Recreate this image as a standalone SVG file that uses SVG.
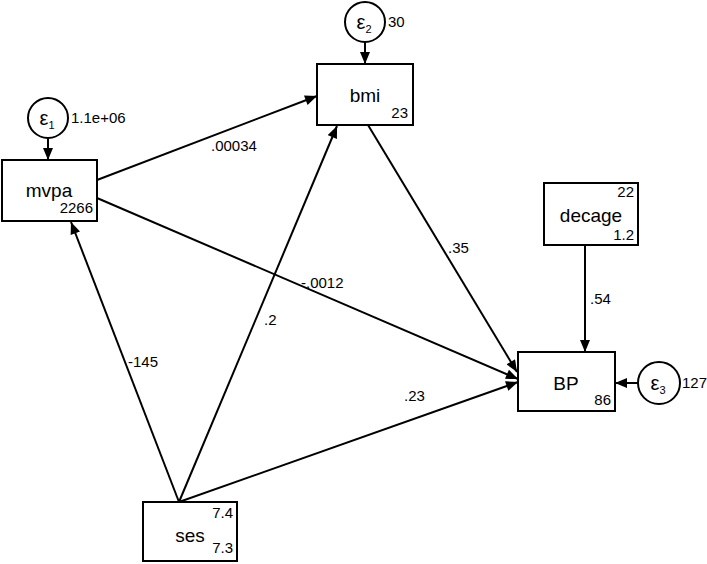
<svg xmlns="http://www.w3.org/2000/svg" width="707" height="564" viewBox="0 0 707 564">
<defs>
<marker id="ah" viewBox="0 0 12 10" refX="12" refY="5" markerWidth="13" markerHeight="10" markerUnits="userSpaceOnUse" orient="auto">
<path d="M0,0 L12,5 L0,10 z" fill="#000"/>
</marker>
<style>
.box{fill:#fff;stroke:#000;stroke-width:2}
.err{fill:#fff;stroke:#000;stroke-width:2}
.lbl{font-family:"Liberation Sans",Arial,sans-serif;font-size:19px;fill:#000}
.num{font-family:"Liberation Sans",Arial,sans-serif;font-size:15px;fill:#000}
.eps{font-family:"Liberation Sans",Arial,sans-serif;font-size:20px;fill:#000}
.sub{font-size:11px}
.con line{stroke:#000;stroke-width:2;marker-end:url(#ah)}
</style>
</defs>
<rect width="707" height="564" fill="#fff"/>
<g id="connectors" class="con">
<line x1="48" y1="138" x2="48" y2="160"/>
<line x1="365" y1="42" x2="365" y2="64"/>
<line x1="638" y1="383" x2="615" y2="383"/>
<line x1="97" y1="180" x2="317" y2="96"/>
<line x1="97" y1="198" x2="518" y2="379"/>
<line x1="368" y1="125" x2="517" y2="372"/>
<line x1="179" y1="502" x2="71" y2="222"/>
<line x1="179" y1="502" x2="337" y2="126"/>
<line x1="179" y1="502" x2="518" y2="382"/>
<line x1="585" y1="245" x2="585" y2="352"/>
</g>
<g id="labels">
<text class="num" x="211" y="151">.00034</text>
<text class="num" x="301" y="288">-.0012</text>
<text class="num" x="448" y="253">.35</text>
<text class="num" x="128" y="367">-145</text>
<text class="num" x="264" y="325">.2</text>
<text class="num" x="404" y="401">.23</text>
<text class="num" x="590" y="304">.54</text>
</g>
<g id="e1">
<circle class="err" cx="48" cy="118" r="20"/>
<text class="eps" x="47" y="125" text-anchor="middle">ε<tspan class="sub" dy="4">1</tspan></text>
<text class="num" x="71" y="123">1.1e+06</text>
</g>
<g id="e2">
<circle class="err" cx="365" cy="22" r="20"/>
<text class="eps" x="364" y="29" text-anchor="middle">ε<tspan class="sub" dy="4">2</tspan></text>
<text class="num" x="388" y="27">30</text>
</g>
<g id="e3">
<circle class="err" cx="659" cy="383" r="21"/>
<text class="eps" x="658" y="390" text-anchor="middle">ε<tspan class="sub" dy="4">3</tspan></text>
<text class="num" x="682" y="388">127</text>
</g>
<g id="mvpa">
<rect class="box" x="2" y="160" width="95" height="61"/>
<text class="lbl" x="49" y="197" text-anchor="middle">mvpa</text>
<text class="num" x="93" y="213" text-anchor="end">2266</text>
</g>
<g id="bmi">
<rect class="box" x="317" y="64" width="96" height="61"/>
<text class="lbl" x="365" y="102" text-anchor="middle">bmi</text>
<text class="num" x="408" y="118" text-anchor="end">23</text>
</g>
<g id="decage">
<rect class="box" x="544" y="183" width="94" height="62"/>
<text class="lbl" x="591" y="222" text-anchor="middle">decage</text>
<text class="num" x="634" y="197" text-anchor="end">22</text>
<text class="num" x="634" y="240" text-anchor="end">1.2</text>
</g>
<g id="BP">
<rect class="box" x="518" y="352" width="97" height="59"/>
<text class="lbl" x="566" y="390" text-anchor="middle">BP</text>
<text class="num" x="611" y="405" text-anchor="end">86</text>
</g>
<g id="ses">
<rect class="box" x="143" y="502" width="94" height="59"/>
<text class="lbl" x="190" y="542" text-anchor="middle">ses</text>
<text class="num" x="233" y="518" text-anchor="end">7.4</text>
<text class="num" x="233" y="553" text-anchor="end">7.3</text>
</g>
</svg>
